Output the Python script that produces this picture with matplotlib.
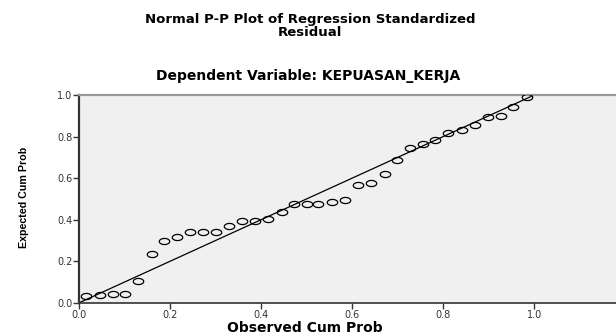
#!/usr/bin/env python
# coding: utf-8

import matplotlib

matplotlib.use("Agg")
import matplotlib.pyplot as plt
import numpy as np
from matplotlib.path import Path

# observed vs expected cumulative probabilities
observed_cum_prob = [
    0.015, 0.045, 0.074, 0.101, 0.130, 0.160, 0.187, 0.215, 0.243, 0.272,
    0.300, 0.330, 0.357, 0.386, 0.415, 0.445, 0.472, 0.500, 0.525, 0.556,
    0.585, 0.613, 0.641, 0.672, 0.699, 0.727, 0.755, 0.782, 0.811, 0.840,
    0.870, 0.899, 0.926, 0.954, 0.983,
]
expected_cum_prob = [
    0.032, 0.035, 0.043, 0.043, 0.106, 0.233, 0.299, 0.317, 0.339, 0.339,
    0.339, 0.368, 0.394, 0.394, 0.403, 0.437, 0.475, 0.476, 0.477, 0.486,
    0.494, 0.567, 0.578, 0.620, 0.687, 0.743, 0.764, 0.783, 0.815, 0.831,
    0.855, 0.892, 0.899, 0.944, 0.992,
]
ref_line = [0.0, 1.0]
tick_values = [0.0, 0.2, 0.4, 0.6, 0.8, 1.0]
tick_labels = ["0.0", "0.2", "0.4", "0.6", "0.8", "1.0"]

W, H = 616, 336

fig = plt.figure(figsize=(W / 100, H / 100), dpi=100)
fig.patch.set_facecolor("white")

x0, y0, y1 = 79.3, 302.7, 95.0
ax = fig.add_axes([x0 / W, 1 - y0 / H, 1 - x0 / W, (y0 - y1) / H])
ax.set_facecolor("#f0f0f0")
ax.set_xlim(0, (W - x0) / 455.0)
ax.set_ylim(0, 1)

# wide open ellipse marker (the source image is stretched horizontally)
t = np.linspace(0, 2 * np.pi, 60)
ellipse = Path(np.column_stack([1.7 * np.cos(t), np.sin(t)]), closed=True)

ax.plot(ref_line, ref_line, color="black", lw=0.9, zorder=2)
ax.plot(
    observed_cum_prob,
    expected_cum_prob,
    linestyle="none",
    marker=ellipse,
    markersize=7.5,
    markerfacecolor="none",
    markeredgecolor="black",
    markeredgewidth=0.9,
    zorder=3,
)

ax.set_xticks(tick_values)
ax.set_xticklabels(tick_labels)
ax.set_yticks(tick_values)
ax.set_yticklabels(tick_labels)
ax.tick_params(
    direction="out", length=4, width=1, color="#333333",
    labelsize=7, labelcolor="#333333", pad=1,
)

ax.spines["right"].set_visible(False)
ax.spines["top"].set_color("#999999")
ax.spines["top"].set_linewidth(1.6)
ax.spines["left"].set_color("#333333")
ax.spines["left"].set_linewidth(1.6)
ax.spines["bottom"].set_color("#333333")
ax.spines["bottom"].set_linewidth(1.2)

fig.text(
    310 / W, 1 - 26 / H,
    "Normal P-P Plot of Regression Standardized\nResidual",
    ha="center", va="center", fontsize=9.5, fontweight="bold",
    family="DejaVu Sans", linespacing=0.95,
)
fig.text(
    308 / W, 1 - 76 / H,
    "Dependent Variable: KEPUASAN_KERJA",
    ha="center", va="center", fontsize=10, fontweight="bold",
    family="DejaVu Sans",
)
fig.text(
    305 / W, 1 - 328 / H,
    "Observed Cum Prob",
    ha="center", va="center", fontsize=10, fontweight="bold",
    family="DejaVu Sans",
)
fig.text(
    24 / W, 1 - 197 / H,
    "Expected Cum Prob",
    ha="center", va="center", rotation=90, fontsize=7.7,
    fontweight="bold", family=["Liberation Sans", "DejaVu Sans"],
)

fig.savefig("out.png", dpi=100)
